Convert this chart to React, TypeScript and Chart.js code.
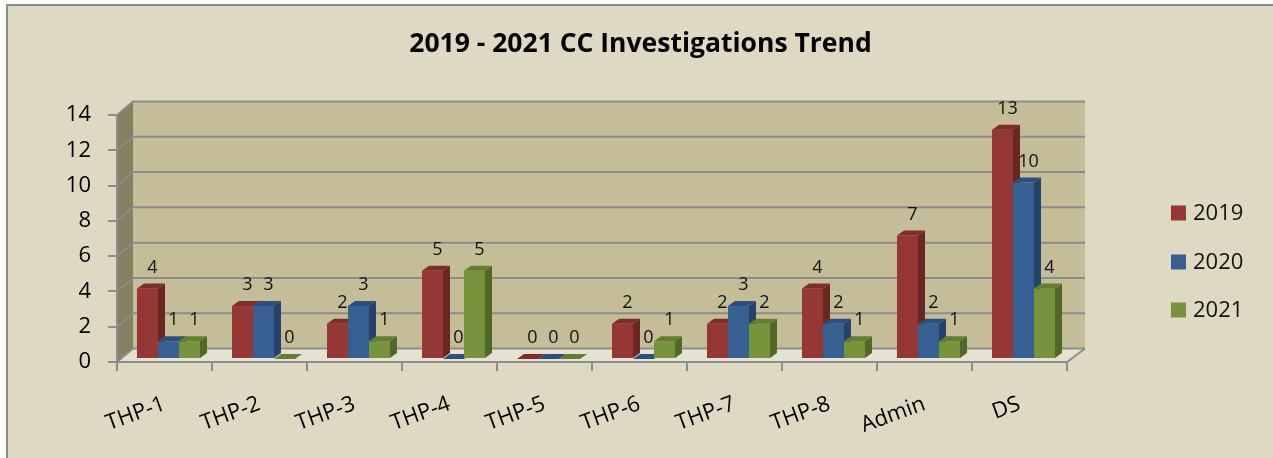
import React, { useEffect, useRef } from "react";
import { Chart, registerables } from "chart.js";

Chart.register(...registerables);

const categories = ["THP-1", "THP-2", "THP-3", "THP-4", "THP-5", "THP-6", "THP-7", "THP-8", "Admin", "DS"];
const seriesNames = ["2019", "2020", "2021"];
const values2019 = [4, 3, 2, 5, 0, 2, 2, 4, 7, 13];
const values2020 = [1, 3, 3, 0, 0, 0, 3, 2, 2, 10];
const values2021 = [1, 0, 1, 5, 0, 1, 2, 1, 1, 4];
const yMin = 0;
const yMax = 14;
const yStep = 2;
const titleText = "2019 - 2021 CC Investigations Trend";

const FRONT = ["#953735", "#376092", "#77933C"];
const SIDE = ["#6B2624", "#24426A", "#526828"];
const TOP = ["#7F2D2B", "#2C4F7C", "#637E30"];

const FONT = "'Open Sans', 'Noto Sans', sans-serif";
const GRID = "#8C8C8C";
const WALL_DX = 16;
const WALL_DY = 13.5;
const BAR_DX = 7;
const BAR_DY = 5;
const SHIFT_X = 4;
const SHIFT_Y = 3;

function poly(ctx: CanvasRenderingContext2D, pts: number[][]) {
  ctx.beginPath();
  ctx.moveTo(pts[0][0], pts[0][1]);
  for (let i = 1; i < pts.length; i++) ctx.lineTo(pts[i][0], pts[i][1]);
  ctx.closePath();
  ctx.fill();
}

const threeD = {
  id: "threeD",
  beforeDraw(chart: any) {
    const { ctx, chartArea } = chart;
    const { left, right, top, bottom } = chartArea;
    const y = chart.scales.y;
    ctx.save();
    // back wall
    ctx.fillStyle = "#C4BD97";
    ctx.fillRect(left + WALL_DX, top - WALL_DY, right - left + 2, bottom - top);
    // left wall
    ctx.fillStyle = "#858062";
    poly(ctx, [[left, top], [left + WALL_DX, top - WALL_DY], [left + WALL_DX, bottom - WALL_DY], [left, bottom]]);
    // floor
    ctx.fillStyle = "#E5E2D2";
    poly(ctx, [[left, bottom], [left + WALL_DX, bottom - WALL_DY], [right + WALL_DX + 2, bottom - WALL_DY], [right, bottom]]);
    // grid lines
    ctx.strokeStyle = GRID;
    ctx.lineWidth = 2;
    for (let v = yMin; v <= yMax; v += yStep) {
      const py = y.getPixelForValue(v);
      ctx.beginPath();
      ctx.moveTo(left, py);
      ctx.lineTo(left + WALL_DX, py - WALL_DY);
      ctx.lineTo(right + WALL_DX + 2, py - WALL_DY);
      ctx.stroke();
    }
    // front edges
    ctx.beginPath();
    ctx.moveTo(left, top);
    ctx.lineTo(left, bottom);
    ctx.lineTo(right, bottom);
    ctx.lineTo(right + WALL_DX + 2, bottom - WALL_DY);
    ctx.stroke();
    ctx.restore();
  },
  afterDatasetsDraw(chart: any) {
    const { ctx } = chart;
    ctx.save();
    ctx.translate(SHIFT_X, -SHIFT_Y);
    const n = chart.data.datasets.length;
    for (let d = 0; d < n; d++) {
      const meta = chart.getDatasetMeta(d);
      meta.data.forEach((el: any) => {
        const { x, y, base, width } = el.getProps(["x", "y", "base", "width"], true);
        const l = x - width / 2;
        const r = x + width / 2;
        ctx.fillStyle = FRONT[d];
        ctx.fillRect(l, y, width, base - y);
        ctx.fillStyle = SIDE[d];
        poly(ctx, [[r, y], [r + BAR_DX, y - BAR_DY], [r + BAR_DX, base - BAR_DY], [r, base]]);
        ctx.fillStyle = TOP[d];
        poly(ctx, [[l, y], [l + BAR_DX, y - BAR_DY], [r + BAR_DX, y - BAR_DY], [r, y]]);
      });
    }
    // data labels
    ctx.fillStyle = "#111";
    ctx.font = `18px ${FONT}`;
    ctx.textAlign = "center";
    ctx.textBaseline = "middle";
    for (let d = 0; d < n; d++) {
      const meta = chart.getDatasetMeta(d);
      const vals = chart.data.datasets[d].data;
      meta.data.forEach((el: any, i: number) => {
        const { x, y } = el.getProps(["x", "y"], true);
        ctx.fillText(String(vals[i]), x + 5, y - 21);
      });
    }
    ctx.restore();
  },
  afterDraw(chart: any) {
    const { ctx, chartArea, width } = chart;
    ctx.save();
    // title, centred on the whole chart box
    ctx.fillStyle = "#000";
    ctx.font = `bold 26.5px ${FONT}`;
    ctx.textAlign = "center";
    ctx.textBaseline = "middle";
    ctx.fillText(titleText, width / 2, 38);
    // legend
    ctx.font = `22px ${FONT}`;
    ctx.textAlign = "left";
    const x0 = chartArea.right + 104;
    const rowY = [207, 256, 304];
    chart.data.datasets.forEach((ds: any, i: number) => {
      ctx.fillStyle = FRONT[i];
      ctx.fillRect(x0, rowY[i] - 7.5, 15, 15);
      ctx.fillStyle = "#111";
      ctx.fillText(ds.label, x0 + 22, rowY[i] + 1);
    });
    ctx.restore();
  },
};

export default function App() {
  const ref = useRef<HTMLCanvasElement | null>(null);
  useEffect(() => {
    if (!ref.current) return;
    Chart.defaults.font.family = FONT;
    const chart = new Chart(ref.current, {
      type: "bar",
      data: {
        labels: categories,
        datasets: [values2019, values2020, values2021].map((vals, i) => ({
          label: seriesNames[i],
          data: vals,
          backgroundColor: "rgba(0,0,0,0)",
          borderWidth: 0,
          categoryPercentage: 0.663,
          barPercentage: 1,
        })),
      },
      options: {
        responsive: false,
        animation: false,
        layout: { padding: { left: 0, right: 206, top: 109, bottom: 0 } },
        plugins: {
          legend: { display: false },
          tooltip: { enabled: false },
          title: { display: false },
        },
        scales: {
          x: {
            grid: { drawOnChartArea: false, drawTicks: true, tickLength: 9, color: GRID, lineWidth: 2, offset: true },
            border: { display: false },
            ticks: {
              autoSkip: false,
              minRotation: 20,
              maxRotation: 20,
              color: "#000",
              font: { size: 22, family: FONT },
              padding: 20,
            },
            afterFit: (s: any) => {
              s.height = 96;
            },
          },
          y: {
            min: yMin,
            max: yMax,
            grid: { drawOnChartArea: false, drawTicks: true, tickLength: 9, color: GRID, lineWidth: 2 },
            border: { display: false },
            ticks: { stepSize: yStep, color: "#000", font: { size: 22, family: FONT }, padding: 17 },
            afterFit: (s: any) => {
              s.width = 109;
            },
          },
        },
      },
      plugins: [threeD],
    });
    return () => chart.destroy();
  }, []);

  return (
    <div
      style={{
        position: "fixed",
        left: 6,
        top: 4,
        width: 1267,
        height: 452,
        borderLeft: "2px solid #8B8B8B",
        borderTop: "2px solid #8B8B8B",
        background: "#DDD9C3",
        overflow: "hidden",
      }}
    >
      <canvas ref={ref} width={1265} height={452} style={{ display: "block" }} />
    </div>
  );
}
